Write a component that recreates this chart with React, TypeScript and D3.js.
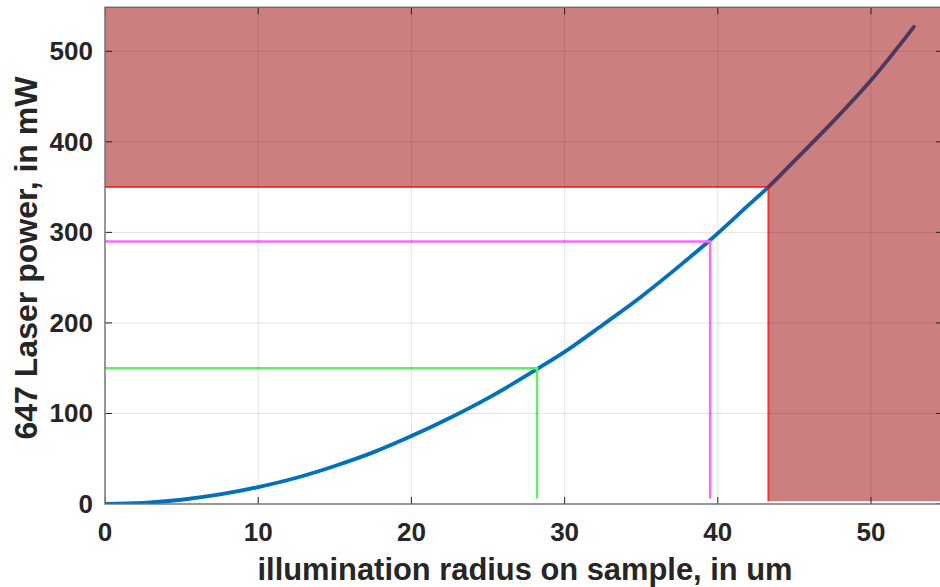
import React from "react";
import * as d3 from "d3";

// Curve: illumination radius (um) vs 647 laser power (mW)
const radius = [0, 2.5, 5, 7.5, 10, 12.5, 15, 17.5, 20, 22.5, 25, 28.3, 30, 32.5, 35, 37.5, 39.6, 42, 43.3, 45, 47.5, 50, 52.8];
const power = [0, 1.2, 4.7, 10.5, 18.7, 29, 42, 57, 75, 95, 117, 150, 168, 198, 229, 263, 293, 330, 350, 379, 422, 468, 527];

// Guide markers: [radius, power]
const thresholdR = 43.3;
const thresholdP = 350;
const markerR = [28.2, 39.5];
const markerP = [150, 290];
const markerColors = ["#5cf25c", "#ff66ff"];

const xTicks = [0, 10, 20, 30, 40, 50];
const yTicks = [0, 100, 200, 300, 400, 500];
const xDomain = [0, 54.7];
const yDomain = [0, 548.6];
const guideBottom = 6;

const W = 940, H = 587;
const m = { left: 105, right: 943, top: 7.3, bottom: 504 };

export default function App() {
  const x = d3.scaleLinear().domain(xDomain).range([m.left, m.right]);
  const y = d3.scaleLinear().domain(yDomain).range([m.bottom, m.top]);
  const pts: [number, number][] = radius.map((r, i) => [r, power[i]]);
  const line = d3.line<[number, number]>().x(d => x(d[0])).y(d => y(d[1])).curve(d3.curveMonotoneX);

  // patch: everything above threshold power OR right of threshold radius
  const patch = [
    [0, yDomain[1]], [xDomain[1], yDomain[1]], [xDomain[1], 3], [thresholdR, 3],
    [thresholdR, thresholdP], [0, thresholdP],
  ];
  const patchPath = "M" + patch.map(p => `${x(p[0])},${y(p[1])}`).join("L") + "Z";

  const font = "'Liberation Sans', Arial, Helvetica, sans-serif";
  const tickLen = 7;
  return (
    <svg width={W} height={H} style={{ position: "absolute", left: 0, top: 0, background: "#fff" }}>
      <defs>
        <clipPath id="clip">
          <rect x={m.left} y={m.top} width={m.right - m.left} height={m.bottom - m.top} />
        </clipPath>
      </defs>
      <g clipPath="url(#clip)">
        {/* curve */}
        <path d={line(pts) || ""} fill="none" stroke="#0072BD" strokeWidth={3.8} strokeLinecap="round" />
        {/* markers */}
        {markerR.map((r, i) => (
          <path key={i} d={`M${x(0)},${y(markerP[i])}H${x(r)}V${y(guideBottom)}`} fill="none" stroke={markerColors[i]} strokeWidth={2.4} />
        ))}
        {/* patch */}
        <path d={patchPath} fill="rgb(153,0,0)" fillOpacity={0.5} stroke="none" />
        <path d={`M${x(0)},${y(thresholdP)}H${x(thresholdR)}V${y(3)}`} fill="none" stroke="#ff0000" strokeOpacity={0.7} strokeWidth={2} />
        {/* grid */}
        {xTicks.filter(t => t > 0).map(t => (
          <line key={"gx" + t} x1={x(t)} x2={x(t)} y1={m.top} y2={m.bottom} stroke="rgb(38,38,38)" strokeOpacity={0.13} strokeWidth={1} />
        ))}
        {yTicks.filter(t => t > 0).map(t => (
          <line key={"gy" + t} x1={m.left} x2={m.right} y1={y(t)} y2={y(t)} stroke="rgb(38,38,38)" strokeOpacity={0.13} strokeWidth={1} />
        ))}
        {/* ticks */}
        {xTicks.map(t => (
          <g key={"tx" + t}>
            <line x1={x(t)} x2={x(t)} y1={m.bottom} y2={m.bottom - tickLen} stroke="#262626" strokeWidth={1} />
            <line x1={x(t)} x2={x(t)} y1={m.top} y2={m.top + tickLen} stroke="#262626" strokeWidth={1} />
          </g>
        ))}
        {yTicks.map(t => (
          <g key={"ty" + t}>
            <line x1={m.left} x2={m.left + tickLen} y1={y(t)} y2={y(t)} stroke="#262626" strokeWidth={1} />
            <line x1={m.right} x2={m.right - tickLen} y1={y(t)} y2={y(t)} stroke="#262626" strokeWidth={1} />
          </g>
        ))}
      </g>
      {/* box */}
      <rect x={m.left} y={m.top} width={m.right - m.left} height={m.bottom - m.top} fill="none" stroke="#6b6b6b" strokeWidth={1.4} />
      {/* tick labels */}
      {xTicks.map(t => (
        <text key={"lx" + t} x={x(t)} y={541} textAnchor="middle" fontFamily={font} fontWeight="bold" fontSize={26} fill="#262626">{t}</text>
      ))}
      {yTicks.map(t => (
        <text key={"ly" + t} x={93} y={y(t) + 9} textAnchor="end" fontFamily={font} fontWeight="bold" fontSize={26} fill="#262626">{t}</text>
      ))}
      {/* axis labels */}
      <text x={525} y={580} textAnchor="middle" fontFamily={font} fontWeight="bold" fontSize={31} textLength={535} lengthAdjust="spacingAndGlyphs" fill="#262626">illumination radius on sample, in um</text>
      <text transform={`translate(37,258) rotate(-90)`} textAnchor="middle" fontFamily={font} fontWeight="bold" fontSize={31} textLength={363} lengthAdjust="spacingAndGlyphs" fill="#262626">647 Laser power, in mW</text>
    </svg>
  );
}
